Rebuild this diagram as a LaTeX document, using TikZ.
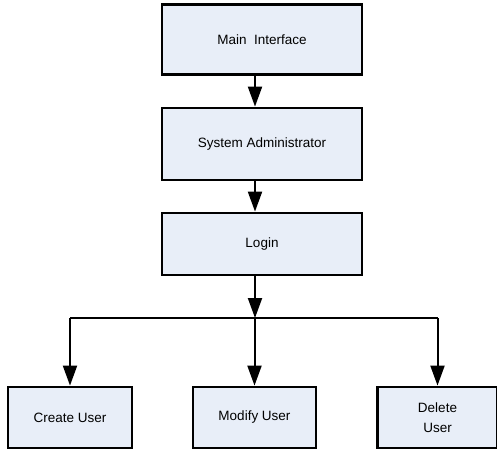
\documentclass[tikz,border=0pt]{standalone}
\usepackage{fontspec}
\setmainfont{Liberation Sans}
\usetikzlibrary{arrows.meta}

\begin{document}
\begin{tikzpicture}[
   x=1pt,y=-1pt,
   font=\fontsize{13.5}{15}\selectfont,
   box/.style={draw,line width=2.8pt,fill=boxfill,inner sep=0pt,align=center},
   top/.style={box,minimum width=200,minimum height=70},
   leaf/.style={box,minimum width=123,minimum height=61},
   to/.style={-{Triangle[length=20pt,width=14pt]},line width=2pt},
   bus/.style={line width=2pt}]
\definecolor{boxfill}{RGB}{232,238,248}
\useasboundingbox (0,0) rectangle (497,450);
\node[top] (main) at (262,39.5) {Main\ \ Interface};
\node[top,minimum height=72] (admin) at (262,144) {System Administrator};
\node[top,minimum height=62] (login) at (262,244) {Login};
\node[leaf,minimum width=124] (create) at (70,417.5) {Create User};
\node[leaf] (modify) at (254.5,417.5) {Modify User};
\node[leaf,minimum width=120] (delete) at (437.5,417.5) {Delete\\[5pt]User};
\coordinate (bus) at (255,318);
\draw[to] (main.south -| bus) -- (admin.north -| bus);
\draw[to] (admin.south -| bus) -- (login.north -| bus);
\draw[to] (login.south -| bus) -- (bus);
\draw[bus] (create.north |- bus) -- (delete.north |- bus);
\draw[to] (create.north |- bus) -- (create.north);
\draw[to] (modify.north |- bus) -- (modify.north);
\draw[to] (delete.north |- bus) -- (delete.north);
\end{tikzpicture}
\end{document}
